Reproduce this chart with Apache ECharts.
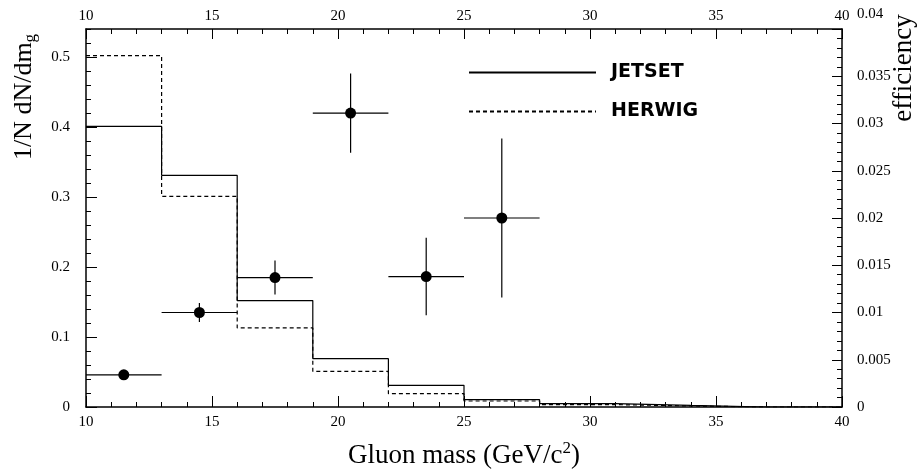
<!DOCTYPE html>
<html>
<head>
<meta charset="utf-8">
<script src="https://cdn.jsdelivr.net/npm/echarts@6.0.0/dist/echarts.min.js"></script>
<style>
    html, body { margin: 0; background: #fff; }
    #chart { width: 920px; height: 475px; }
</style>
</head>
<body>
<div id="chart"></div>
<script>
// histogram bins (GeV/c^2), left edges + last right edge
var binEdges = [10, 13, 16, 19, 22, 25, 28, 31, 34, 37, 40];
// 1/N dN/dm_g per bin
var jetset = [0.401, 0.331, 0.152, 0.069, 0.031, 0.0105, 0.0049, 0.0022, 0, 0];
var herwig = [0.502, 0.301, 0.113, 0.051, 0.019, 0.0086, 0.0034, 0.0015, 0, 0];

// efficiency points (right axis)
var effMass = [11.5, 14.5, 17.5, 20.5, 23.5, 26.5];
var effMassErr = [1.5, 1.5, 1.5, 1.5, 1.5, 1.5];
var effValue = [0.0034, 0.0100, 0.0137, 0.0311, 0.0138, 0.0200];
var effErr = [0.0003, 0.0010, 0.0018, 0.0042, 0.0041, 0.0084];

var serif = 'Liberation Serif';

function stepData(vals) {
    var out = [];
    for (var i = 0; i < vals.length; i++) {
        out.push([binEdges[i], vals[i]]);
    }
    out.push([binEdges[binEdges.length - 1], vals[vals.length - 1]]);
    return out;
}

var effData = [];
for (var i = 0; i < effMass.length; i++) {
    effData.push([effMass[i], effValue[i], effMassErr[i], effErr[i]]);
}

var myChart = echarts.init(document.getElementById('chart'));

var axisLine = { show: true, onZero: false, lineStyle: { color: '#000', width: 1.5 } };
var tickStyle = { color: '#000', width: 1 };
var labelStyle = { color: '#000', fontFamily: serif, fontSize: 15 };

option = {
    animation: false,
    backgroundColor: '#fff',
    grid: { left: 86, right: 78, top: 29, bottom: 68 },
    legend: {
        data: ['JETSET', 'HERWIG'],
        orient: 'vertical',
        left: 463,
        top: 58,
        itemWidth: 127,
        itemHeight: 20,
        itemGap: 20,
        itemStyle: { opacity: 0 },
        textStyle: {
            color: '#000',
            fontFamily: 'DejaVu Sans',
            fontWeight: 'bold',
            fontSize: 19,
            padding: [0, 0, 0, 10]
        }
    },
    xAxis: [{
        type: 'value', position: 'bottom',
        min: 10, max: 40, interval: 5,
        axisLine: axisLine,
        axisTick: { show: true, inside: true, length: 11, lineStyle: tickStyle },
        minorTick: { show: true, splitNumber: 5, length: 5, lineStyle: tickStyle },
        axisLabel: Object.assign({ margin: 8 }, labelStyle),
        splitLine: { show: false }
    }, {
        type: 'value', position: 'top',
        min: 10, max: 40, interval: 5,
        axisLine: axisLine,
        axisTick: { show: true, inside: true, length: 10, lineStyle: tickStyle },
        minorTick: { show: true, splitNumber: 5, length: 5, lineStyle: tickStyle },
        axisLabel: Object.assign({ margin: 5 }, labelStyle),
        splitLine: { show: false }
    }],
    yAxis: [{
        type: 'value', position: 'left',
        min: 0, max: 0.54, interval: 0.1,
        axisLine: axisLine,
        axisTick: { show: true, inside: true, length: 11, lineStyle: tickStyle },
        axisLabel: Object.assign({ margin: 16, showMaxLabel: false }, labelStyle),
        splitLine: { show: false }
    }, {
        type: 'value', position: 'right',
        min: 0, max: 0.04, interval: 0.005,
        axisLine: axisLine,
        axisTick: { show: true, inside: true, length: 10, lineStyle: tickStyle },
        minorTick: { show: true, splitNumber: 5, length: 5, lineStyle: tickStyle },
        axisLabel: Object.assign({
            margin: 15,
            formatter: function (v) {
                return v >= 0.04 ? '{top|0.04}' : String(+v.toFixed(3));
            },
            rich: { top: { fontFamily: serif, fontSize: 15, color: '#000', padding: [0, 0, 30, 0] } }
        }, labelStyle),
        splitLine: { show: false }
    }, {
        // minor ticks of left axis, every 0.02
        type: 'value', position: 'left',
        min: 0, max: 0.54, interval: 0.02,
        axisLine: { show: false },
        axisTick: { show: true, inside: true, length: 5, lineStyle: tickStyle },
        axisLabel: { show: false },
        splitLine: { show: false }
    }],
    graphic: [{
        type: 'text', x: 24, y: 97, rotation: Math.PI / 2,
        style: {
            text: '{a|1/N dN/dm}{s|g}',
            align: 'center', verticalAlign: 'middle',
            rich: {
                a: { fontFamily: serif, fontSize: 26, lineHeight: 30, fill: '#000' },
                s: { fontFamily: serif, fontSize: 17, lineHeight: 8, verticalAlign: 'bottom', fill: '#000' }
            }
        }
    }, {
        type: 'text', x: 464, y: 456,
        style: {
            text: '{a|Gluon mass (GeV/c}{p|2}{a|)}',
            align: 'center', verticalAlign: 'middle',
            rich: {
                a: { fontFamily: serif, fontSize: 27, lineHeight: 30, fill: '#000' },
                p: { fontFamily: serif, fontSize: 17, lineHeight: 18, padding: [0, 0, 14, 0], verticalAlign: 'bottom', fill: '#000' }
            }
        }
    }, {
        type: 'text', x: 904, y: 68, rotation: Math.PI / 2,
        style: {
            text: 'efficiency',
            align: 'center', verticalAlign: 'middle',
            fontFamily: serif, fontSize: 27, fill: '#000'
        }
    }],
    series: [{
        name: 'JETSET',
        type: 'line',
        step: 'end',
        xAxisIndex: 0, yAxisIndex: 0,
        symbol: 'none',
        showSymbol: false,
        data: stepData(jetset),
        lineStyle: { color: '#000', width: 1.2 },
        itemStyle: { color: '#000' }
    }, {
        name: 'HERWIG',
        type: 'line',
        step: 'end',
        xAxisIndex: 0, yAxisIndex: 0,
        symbol: 'none',
        showSymbol: false,
        data: stepData(herwig),
        lineStyle: { color: '#000', width: 1.2, type: [4, 3] },
        itemStyle: { color: '#000' }
    }, {
        name: 'efficiency',
        type: 'custom',
        xAxisIndex: 0, yAxisIndex: 1,
        encode: { x: 0, y: 1 },
        data: effData,
        renderItem: function (params, api) {
            var x = api.value(0), y = api.value(1), ex = api.value(2), ey = api.value(3);
            var l = api.coord([x - ex, y]), r = api.coord([x + ex, y]);
            var t = api.coord([x, y + ey]), b = api.coord([x, y - ey]);
            var c = api.coord([x, y]);
            var st = { stroke: '#000', lineWidth: 1.2 };
            return {
                type: 'group',
                children: [
                    { type: 'line', shape: { x1: l[0], y1: l[1], x2: r[0], y2: r[1] }, style: st },
                    { type: 'line', shape: { x1: t[0], y1: t[1], x2: b[0], y2: b[1] }, style: st },
                    { type: 'circle', shape: { cx: c[0], cy: c[1], r: 5.5 }, style: { fill: '#000' } }
                ]
            };
        }
    }]
};

myChart.setOption(option);
</script>
</body>
</html>
